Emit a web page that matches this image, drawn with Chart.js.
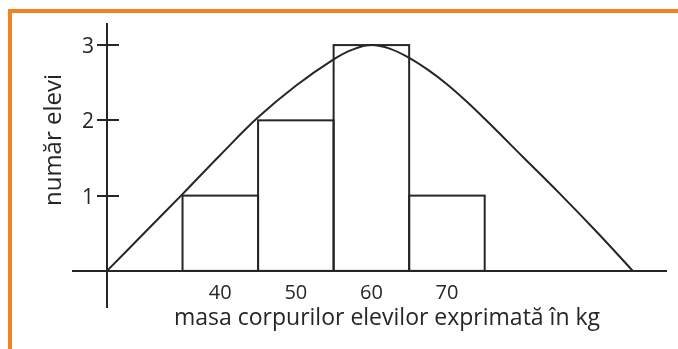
<!DOCTYPE html>
<html>
<head>
<meta charset="utf-8">
<script src="https://cdn.jsdelivr.net/npm/chart.js@4.4.1/dist/chart.umd.min.js"></script>
<style>
  html, body { margin: 0; padding: 0; background: #fff; }
  #wrap { position: relative; width: 678px; height: 349px; overflow: hidden; }
  #cadru {
    position: absolute; left: 8px; top: 9px; width: 670px; height: 360px;
    border-top: 4px solid #f58220; border-left: 4px solid #f58220;
  }
  canvas { position: absolute; left: 0; top: 0; }
</style>
</head>
<body>
<div id="wrap">
  <div id="cadru"></div>
  <canvas id="grafic" width="678" height="349"></canvas>
</div>
<script>
'use strict';

// histograma: mijlocul fiecărui interval de masă (kg) și numărul de elevi
const CLASE = [40, 50, 60, 70];
const ELEVI = [1, 2, 3, 1];

const TICK_X = [40, 50, 60, 70];
const TICK_Y = [1, 2, 3];

// curba de distribuție trasată peste bare
const CURBA_X = [25, 30, 35, 40, 45, 50, 55, 57.5, 60, 62.5, 65, 67.5, 70, 72.5, 75, 80, 85, 90, 94.6];
const CURBA_Y = [0, 0.51, 1.02, 1.54, 2.04, 2.46, 2.81, 2.94, 3, 2.95, 2.83, 2.67, 2.48, 2.26, 2.02, 1.52, 1.02, 0.5, 0];

const NEGRU = '#262626';
const FONT = "'Open Sans', sans-serif";

// conturul barelor, desenat o singură dată pe margini comune
const conturBare = {
    id: 'conturBare',
    afterDatasetsDraw(chart) {
        const { ctx } = chart;
        const meta = chart.getDatasetMeta(1);
        ctx.save();
        ctx.strokeStyle = NEGRU;
        ctx.lineWidth = 2;
        meta.data.forEach((bar) => {
            const { x, y, base, width } = bar.getProps(['x', 'y', 'base', 'width'], true);
            ctx.strokeRect(x - width / 2, y, width, base - y);
        });
        ctx.restore();
    },
};

// liniuțele și etichetele axei y, plus titlurile axelor
const axeSiTitluri = {
    id: 'axeSiTitluri',
    afterDraw(chart) {
        const { ctx, scales: { x, y } } = chart;
        const x0 = x.getPixelForValue(25);
        ctx.save();
        ctx.strokeStyle = NEGRU;
        ctx.fillStyle = NEGRU;
        ctx.lineWidth = 2;
        ctx.font = `21px ${FONT}`;
        ctx.textAlign = 'right';
        ctx.textBaseline = 'middle';
        TICK_Y.forEach((v) => {
            const py = Math.round(y.getPixelForValue(v));
            ctx.beginPath();
            ctx.moveTo(x0 - 10, py);
            ctx.lineTo(x0 + 12, py);
            ctx.stroke();
            ctx.fillText(String(v), x0 - 13, py + 2);
        });

        ctx.textAlign = 'center';
        ctx.font = `23px ${FONT}`;
        ctx.fillText('masa corpurilor elevilor exprimată în kg', 387, 318);

        ctx.translate(54, 140);
        ctx.rotate(-Math.PI / 2);
        ctx.font = `24px ${FONT}`;
        ctx.fillText('număr elevi', 0, 0);
        ctx.restore();
    },
};

new Chart(document.getElementById('grafic'), {
    type: 'bar',
    data: {
        datasets: [
            {
                type: 'line',
                data: CURBA_X.map((v, i) => ({ x: v, y: CURBA_Y[i] })),
                borderColor: NEGRU,
                borderWidth: 2,
                pointRadius: 0,
                tension: 0.4,
                fill: false,
                order: 0,
            },
            {
                type: 'bar',
                data: CLASE.map((v, i) => ({ x: v, y: ELEVI[i] })),
                backgroundColor: 'rgba(0,0,0,0)',
                borderWidth: 0,
                barPercentage: 1,
                categoryPercentage: 1,
                order: 1,
            },
        ],
    },
    options: {
        responsive: false,
        animation: false,
        devicePixelRatio: 1,
        layout: { padding: { left: 73, right: 12, top: 24, bottom: 42 } },
        plugins: { legend: { display: false }, tooltip: { enabled: false } },
        scales: {
            x: {
                type: 'linear',
                min: 20.5,
                max: 99,
                offset: false,
                position: { y: 0 },
                grid: { display: false, drawTicks: false },
                border: { color: NEGRU, width: 2 },
                afterBuildTicks: (s) => { s.ticks = TICK_X.map((value) => ({ value })); },
                ticks: { color: NEGRU, font: { family: FONT, size: 20 }, padding: 10, autoSkip: false, maxRotation: 0 },
            },
            y: {
                type: 'linear',
                min: -0.48,
                max: 3.28,
                position: { x: 25 },
                grid: { display: false, drawTicks: false },
                border: { color: NEGRU, width: 2 },
                afterBuildTicks: (s) => { s.ticks = TICK_Y.map((value) => ({ value })); },
                ticks: { display: false },
            },
        },
    },
    plugins: [conturBare, axeSiTitluri],
});
</script>
</body>
</html>
